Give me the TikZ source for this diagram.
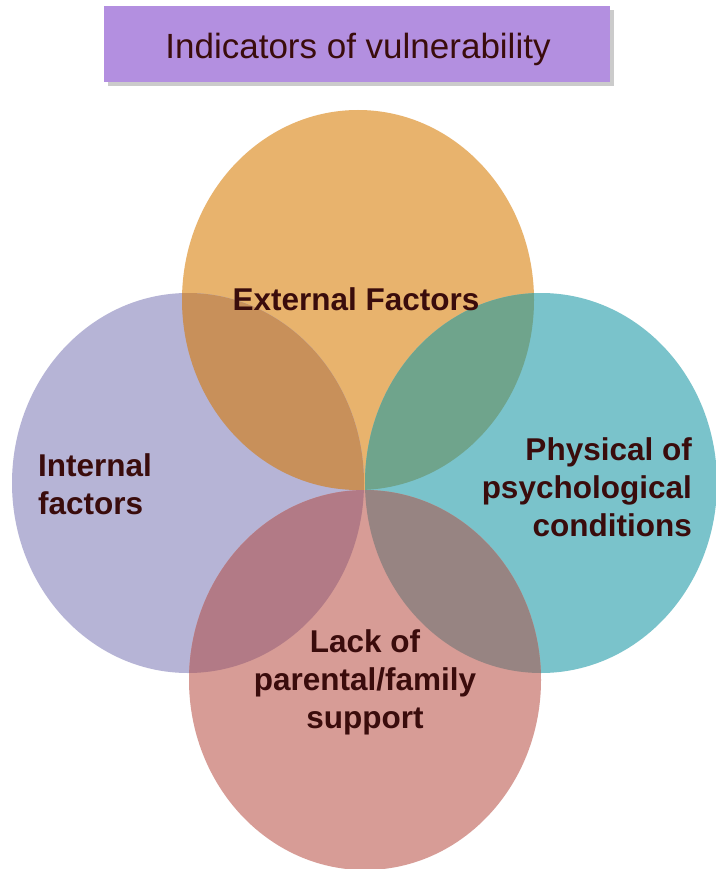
\documentclass[tikz,border=0pt]{standalone}
\usepackage{fontspec}
\setmainfont{Liberation Sans}
\usetikzlibrary{shapes.geometric}
\definecolor{cOr}{HTML}{E8B36D}
\definecolor{cPu}{HTML}{B6B4D6}
\definecolor{cTe}{HTML}{7AC3CB}
\definecolor{cRe}{HTML}{D79C96}
\definecolor{cOrPu}{HTML}{C8905A}
\definecolor{cOrTe}{HTML}{6FA48C}
\definecolor{cPuRe}{HTML}{B27A86}
\definecolor{cTeRe}{HTML}{978482}
\definecolor{cTitle}{HTML}{B38FE0}
\definecolor{cText}{HTML}{3A0C0C}
\begin{document}
\begin{tikzpicture}[x=1pt,y=-1pt,
  blob/.style={ellipse,minimum width=352pt,minimum height=380pt,inner sep=0pt},
  lbl/.style={text=cText,font=\fontsize{31.5}{38}\bfseries\selectfont,inner sep=0pt},
  ttl/.style={text=cText,font=\fontsize{35}{40}\selectfont,inner sep=0pt}]
\useasboundingbox[fill=white] (0,0) rectangle (715,869);
% title
\node[fill=black!45,opacity=0.45,minimum width=506pt,minimum height=76pt,inner sep=0pt] (tshadow) at (361,48) {};
\node[fill=cTitle,minimum width=506pt,minimum height=76pt,inner sep=0pt] (tbox) at (357,44) {};
\node[ttl,anchor=base] (title) at (358,59) {Indicators of vulnerability};
% circles
\node[blob,fill=cOr] (ext) at (358,300) {};
\node[blob,fill=cPu] (int) at (188,483) {};
\node[blob,fill=cTe] (phy) at (541,483) {};
\node[blob,fill=cRe] (lack) at (365,680) {};
% overlaps
\begin{scope}
  \clip (358,300) ellipse [x radius=176pt,y radius=190pt];
  \fill[cOrPu] (188,483) ellipse [x radius=176pt,y radius=190pt];
  \fill[cOrTe] (541,483) ellipse [x radius=176pt,y radius=190pt];
\end{scope}
\begin{scope}
  \clip (365,680) ellipse [x radius=176pt,y radius=190pt];
  \fill[cPuRe] (188,483) ellipse [x radius=176pt,y radius=190pt];
  \fill[cTeRe] (541,483) ellipse [x radius=176pt,y radius=190pt];
\end{scope}
% labels
\node[lbl,anchor=base] (extl) at (356,310) {External Factors};
\node[lbl,anchor=west,align=left] (intl) at (38,484) {Internal\\factors};
\node[lbl,anchor=east,align=right] (phyl) at (692,487) {Physical of\\psychological\\conditions};
\node[lbl,anchor=center,align=center] (lackl) at (365,682) {Lack of\\parental/family\\support};
\end{tikzpicture}
\end{document}
